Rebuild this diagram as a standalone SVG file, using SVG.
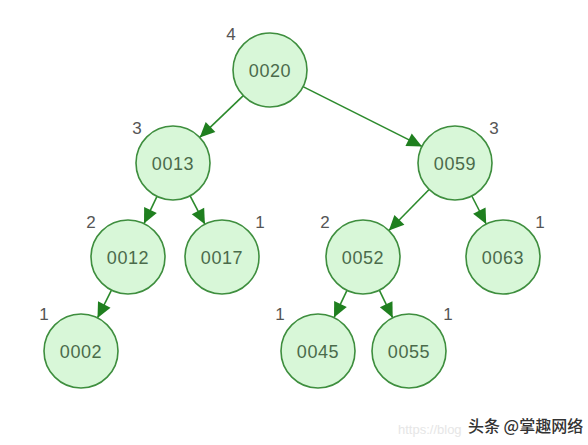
<svg xmlns="http://www.w3.org/2000/svg" width="588" height="445" viewBox="0 0 588 445">
<style>
.node circle{fill:#d8f7d8;stroke:#3e8e3e;stroke-width:1.6}
.node text{font-family:"Liberation Sans",Arial,sans-serif;font-size:18px;fill:#4b6b4b;text-anchor:middle;letter-spacing:0.6px}
.h{font-family:"Liberation Sans",Arial,sans-serif;font-size:17px;fill:#555;text-anchor:middle}
.edges line{stroke:#2c8a2c;stroke-width:1.6;marker-end:url(#arr)}
.wm{font-family:"Noto Sans CJK SC",sans-serif;font-size:16px;font-weight:500;fill:#333}
</style>
<defs>
<marker id="arr" viewBox="0 0 10 10" refX="10" refY="5" markerWidth="10" markerHeight="10" markerUnits="userSpaceOnUse" orient="auto" overflow="visible">
<path d="M-5,-2 L10,5 L-5,12 Z" fill="#1f7f1f"/>
</marker>
</defs>
<rect width="588" height="445" fill="#fff"/>
<g class="edges">
<line x1="243.3" y1="95.6" x2="199.7" y2="137.4"/>
<line x1="303.0" y1="86.6" x2="422.0" y2="146.4"/>
<line x1="157.0" y1="196.4" x2="144.0" y2="223.6"/>
<line x1="190.1" y1="195.8" x2="204.9" y2="224.2"/>
<line x1="429.1" y1="189.5" x2="388.9" y2="230.5"/>
<line x1="471.8" y1="196.0" x2="486.2" y2="224.0"/>
<line x1="111.5" y1="290.1" x2="97.5" y2="317.9"/>
<line x1="347.0" y1="290.4" x2="334.0" y2="317.6"/>
<line x1="379.3" y1="290.2" x2="392.7" y2="317.8"/>
</g>
<g id="n0020" class="node"><circle cx="270" cy="70" r="37"/><text x="270" y="76.5">0020</text></g>
<g id="n0013" class="node"><circle cx="173" cy="163" r="37"/><text x="173" y="169.5">0013</text></g>
<g id="n0059" class="node"><circle cx="455" cy="163" r="37"/><text x="455" y="169.5">0059</text></g>
<g id="n0012" class="node"><circle cx="128" cy="257" r="37"/><text x="128" y="263.5">0012</text></g>
<g id="n0017" class="node"><circle cx="222" cy="257" r="37"/><text x="222" y="263.5">0017</text></g>
<g id="n0052" class="node"><circle cx="363" cy="257" r="37"/><text x="363" y="263.5">0052</text></g>
<g id="n0063" class="node"><circle cx="503" cy="257" r="37"/><text x="503" y="263.5">0063</text></g>
<g id="n0002" class="node"><circle cx="81" cy="351" r="37"/><text x="81" y="357.5">0002</text></g>
<g id="n0045" class="node"><circle cx="318" cy="351" r="37"/><text x="318" y="357.5">0045</text></g>
<g id="n0055" class="node"><circle cx="409" cy="351" r="37"/><text x="409" y="357.5">0055</text></g>
<g id="heights">
<text class="h" x="231" y="40">4</text>
<text class="h" x="137" y="134">3</text>
<text class="h" x="494" y="134">3</text>
<text class="h" x="91" y="228">2</text>
<text class="h" x="260" y="228">1</text>
<text class="h" x="325" y="228">2</text>
<text class="h" x="540" y="228">1</text>
<text class="h" x="44" y="320">1</text>
<text class="h" x="280" y="320">1</text>
<text class="h" x="448" y="320">1</text>
</g>
<text x="398" y="434" font-family="Liberation Sans, sans-serif" font-size="13" fill="#e6e6e6">https://blog</text>
<text class="wm" x="468" y="432">头条 @掌趣网络</text>
</svg>
